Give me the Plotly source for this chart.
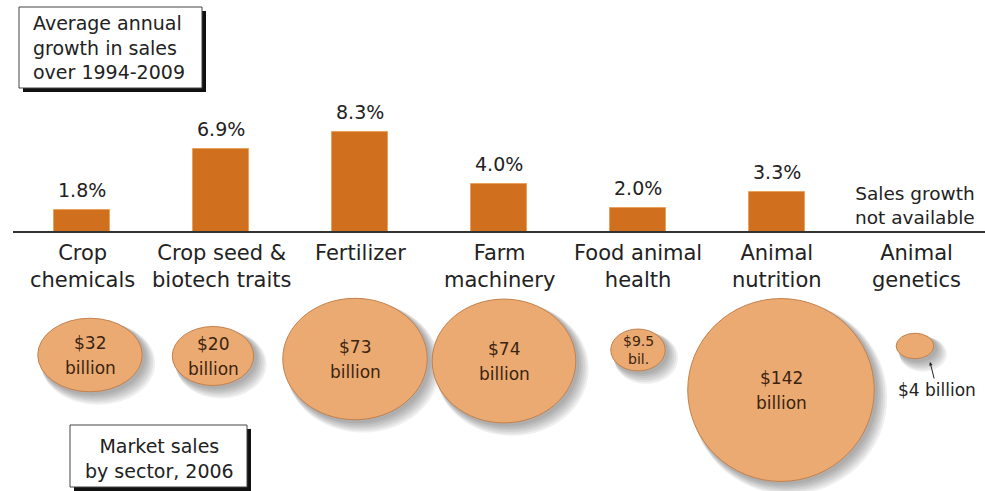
import math
import plotly.graph_objects as go

# ---------------- data ----------------
categories = ["Crop<br>chemicals", "Crop seed &<br>biotech traits", "Fertilizer",
              "Farm<br>machinery", "Food animal<br>health", "Animal<br>nutrition",
              "Animal<br>genetics"]
growth_pct = [1.8, 6.9, 8.3, 4.0, 2.0, 3.3]          # average annual growth 1994-2009
sales_bn = [32, 20, 73, 74, 9.5, 142, 4]              # market sales 2006, $ billion
bubble_labels = ["$32<br>billion", "$20<br>billion", "$73<br>billion", "$74<br>billion",
                 "$9.5<br>bil.", "$142<br>billion", ""]
outside_label = "$4 billion"
growth_title = "Average annual<br>growth in sales<br>over 1994-2009"
sales_title = "Market sales<br>by sector, 2006"
na_note = "Sales growth<br>not available"

# ---------------- styles / layout constants ----------------
W, H = 985, 491
BAR_COLOR = "#D0701F"
BUBBLE_FILL = "#EBAA72"
BUBBLE_EDGE = "#C4814C"
TEXT = "#222222"
BUBBLE_TEXT = "#3A2410"
FONT = "DejaVu Sans"
PX_PER_SQRT_BN = 15.5
bubble_aspect = [1.42, 1.38, 1.19, 1.16, 1.30, 1.02, 1.48]
bubble_dx = [8, -8, -5, 5, 0, 4, -1]
bubble_cy = [355, 356, 359, 361, 350, 390, 346]

idx = list(range(len(categories)))


def px(x):
    return x / W


def py(y):
    return 1 - y / H


fig = go.Figure()
fig.add_trace(go.Bar(
    x=idx[:len(growth_pct)], y=growth_pct, width=0.396,
    marker=dict(color=BAR_COLOR, line=dict(color="#E9A25E", width=1)),
    showlegend=False, hoverinfo="skip"))

shapes = []
annotations = []

# bubble shadows (soft, offset to lower right)
for i, v in enumerate(sales_bn):
    d = PX_PER_SQRT_BN * math.sqrt(v)
    w = d * math.sqrt(bubble_aspect[i])
    h = d / math.sqrt(bubble_aspect[i])
    for k in range(1, 7):
        off = 1.1 * k + 1.5
        g = 0.8 * k
        shapes.append(dict(
            type="circle", xref="x", yref="paper", xsizemode="pixel", ysizemode="pixel",
            xanchor=i, yanchor=py(bubble_cy[i] + off),
            x0=bubble_dx[i] + off - w / 2 - g, x1=bubble_dx[i] + off + w / 2 + g,
            y0=-h / 2 - g, y1=h / 2 + g,
            fillcolor="rgba(40,40,40,0.075)", line=dict(width=0), layer="below"))

# bubbles
for i, v in enumerate(sales_bn):
    d = PX_PER_SQRT_BN * math.sqrt(v)
    w = d * math.sqrt(bubble_aspect[i])
    h = d / math.sqrt(bubble_aspect[i])
    shapes.append(dict(
        type="circle", xref="x", yref="paper", xsizemode="pixel", ysizemode="pixel",
        xanchor=i, yanchor=py(bubble_cy[i]),
        x0=bubble_dx[i] - w / 2, x1=bubble_dx[i] + w / 2, y0=-h / 2, y1=h / 2,
        fillcolor=BUBBLE_FILL, line=dict(color=BUBBLE_EDGE, width=1), layer="below"))
    if bubble_labels[i]:
        small = v < 15
        lines = bubble_labels[i].split("<br>")
        shifts = (-9, 9) if small else (-12, 13)
        for line, s in zip(lines, shifts):
            annotations.append(dict(
                x=i, y=py(bubble_cy[i] + s), xref="x", yref="paper", xshift=bubble_dx[i],
                text=line, showarrow=False, xanchor="center", yanchor="middle",
                font=dict(family=FONT, size=14 if small else 17, color=BUBBLE_TEXT)))

# $4 billion callout
annotations.append(dict(
    x=px(930), y=py(362), xref="paper", yref="paper",
    ax=7, ay=28, axref="pixel", ayref="pixel",
    text=outside_label, showarrow=True, arrowhead=2, arrowsize=0.7, arrowwidth=1,
    arrowcolor="#222", standoff=0, startstandoff=0,
    font=dict(family=FONT, size=17, color=TEXT)))

# baseline
shapes.append(dict(type="line", xref="paper", yref="y", x0=px(13), x1=1, y0=0, y1=0,
                   line=dict(color="#333333", width=2), layer="above"))

# growth labels
for i, v in enumerate(growth_pct):
    annotations.append(dict(
        x=i, y=v, xref="x", yref="y", text=f"{v:.1f}%", showarrow=False,
        xanchor="center", yanchor="bottom", yshift=7,
        font=dict(family=FONT, size=19, color=TEXT)))

# category labels
for i, c in enumerate(categories):
    annotations.append(dict(
        x=i, y=0, xref="x", yref="y", text=c, showarrow=False,
        xanchor="center", yanchor="top", yshift=-7,
        font=dict(family=FONT, size=21, color=TEXT)))

annotations.append(dict(
    x=px(977), y=0, xref="paper", yref="y", text=na_note, showarrow=False,
    xanchor="right", yanchor="bottom", align="right", yshift=2,
    font=dict(family=FONT, size=18.5, color=TEXT)))

# title boxes with hard shadow
for (x0, y0, x1, y1) in [(19, 7, 202, 88), (70, 425, 247, 487)]:
    shapes.append(dict(type="rect", xref="paper", yref="paper",
                       x0=px(x0 + 4), x1=px(x1 + 4), y0=py(y1 + 4), y1=py(y0 + 4),
                       fillcolor="#111111", line=dict(width=0), layer="above"))
    shapes.append(dict(type="rect", xref="paper", yref="paper",
                       x0=px(x0), x1=px(x1), y0=py(y1), y1=py(y0),
                       fillcolor="white", line=dict(color="#444444", width=1), layer="above"))

annotations.append(dict(
    x=px(31), y=py(47.5), xref="paper", yref="paper", text=growth_title, showarrow=False,
    xanchor="left", yanchor="middle", align="left",
    font=dict(family=FONT, size=19, color=TEXT)))
annotations.append(dict(
    x=px(159), y=py(458), xref="paper", yref="paper", text=sales_title, showarrow=False,
    xanchor="center", yanchor="middle", align="center",
    font=dict(family=FONT, size=19, color=TEXT)))

fig.update_layout(
    width=W, height=H, margin=dict(l=0, r=0, t=0, b=0, pad=0),
    paper_bgcolor="white", plot_bgcolor="white",
    xaxis=dict(visible=False, range=[-82 / 139, (W - 82) / 139], fixedrange=True),
    yaxis=dict(visible=False, range=[(232 - H) / 12, 232 / 12], fixedrange=True),
    shapes=shapes, annotations=annotations, showlegend=False, hovermode=False,
    bargap=0,
)

fig.write_html("out.html")
